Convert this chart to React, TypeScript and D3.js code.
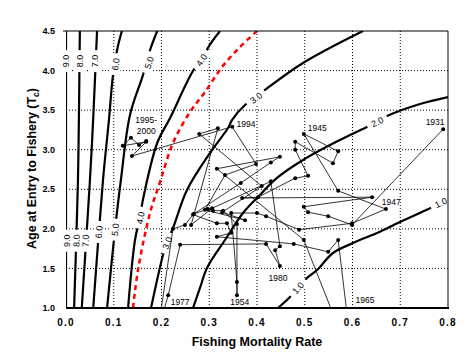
import React from "react";
import * as d3 from "d3";

// ---------- data ----------
const years = [
  1931, 1932, 1933, 1934, 1935, 1936, 1937, 1938, 1939, 1940,
  1941, 1942, 1943, 1944, 1945, 1946, 1947, 1948, 1949, 1950,
  1951, 1952, 1953, 1954, 1955, 1956, 1957, 1958, 1959, 1960,
  1961, 1962, 1963, 1964, 1965, 1966, 1967, 1968, 1969, 1970,
  1971, 1972, 1973, 1974, 1975, 1976, 1977, 1978, 1979, 1980,
  1981, 1982, 1983, 1984, 1985, 1986, 1987, 1988, 1989, 1990,
  1991, 1992, 1993, 1994, 1995, 1996, 1997, 1998, 1999, 2000,
];
const mortality = [
  0.79, 0.599, 0.549, 0.507, 0.498, 0.641, 0.369, 0.402, 0.48, 0.507,
  0.48, 0.48, 0.559, 0.57, 0.498, 0.57, 0.67, 0.599, 0.488, 0.419,
  0.4, 0.346, 0.358, 0.358, 0.358, 0.329, 0.308, 0.297, 0.268, 0.366,
  0.429, 0.448, 0.316, 0.498, 0.601, 0.57, 0.549, 0.477, 0.316, 0.346,
  0.337, 0.316, 0.266, 0.249, 0.224, 0.193, 0.214, 0.239, 0.419, 0.448,
  0.438, 0.448, 0.429, 0.306, 0.262, 0.318, 0.279, 0.41, 0.327, 0.375,
  0.291, 0.333, 0.398, 0.348, 0.138, 0.168, 0.119, 0.136, 0.153, 0.168,
];
const ageAtEntry = [
  3.26, 2.05, 2.16, 2.21, 2.28, 2.4, 2.39, 2.4, 2.64, 2.67,
  3.0, 3.1, 2.83, 2.98, 3.2, 2.48, 2.25, 2.07, 1.99, 2.16,
  2.2, 2.2, 1.33, 1.16, 2.06, 2.23, 2.23, 2.25, 2.19, 2.58,
  2.84, 2.91, 2.76, 1.86, 0.29, 1.86, 1.71, 1.81, 1.9, 1.95,
  2.07, 2.07, 2.18, 2.05, 2.0, 0.72, 1.16, 1.8, 1.81, 1.53,
  1.73, 1.78, 2.6, 2.26, 2.05, 3.27, 3.2, 2.54, 2.21, 2.11,
  2.24, 2.68, 2.82, 3.29, 2.92, 3.1, 3.05, 3.15, 3.06, 3.11,
];

const yearLabels = ["1931", "1945", "1947", "1994", "1995-", "2000", "1954", "1965", "1977", "1980"];
const yearLabelF = [0.773, 0.526, 0.681, 0.377, 0.168, 0.168, 0.364, 0.626, 0.239, 0.444];
const yearLabelT = [3.35, 3.27, 2.34, 3.33, 3.38, 3.24, 1.08, 1.1, 1.08, 1.38];

const xTicks = [0, 0.1, 0.2, 0.3, 0.4, 0.5, 0.6, 0.7, 0.8];
const xTickLabels = ["0.0", "0.1", "0.2", "0.3", "0.4", "0.5", "0.6", "0.7", "0.8"];
const yTicks = [1.0, 1.5, 2.0, 2.5, 3.0, 3.5, 4.0, 4.5];
const yTickLabels = ["1.0", "1.5", "2.0", "2.5", "3.0", "3.5", "4.0", "4.5"];

// contour lines [F, T]
const contour90 = [[0.0, 4.5], [0.0, 1.0]];
const contour80 = [[0.029, 4.5], [0.027, 3.4], [0.025, 2.6], [0.017, 1.0]];
const contour70 = [[0.065, 4.5], [0.057, 3.4], [0.05, 2.6], [0.033, 1.0]];
const contour60 = [[0.117, 4.5], [0.107, 4.26], [0.098, 3.92], [0.09, 3.38], [0.0775, 2.62], [0.057, 1.0]];
const contour50 = [[0.191, 4.5], [0.176, 4.26], [0.161, 3.94], [0.134, 3.44], [0.115, 2.62], [0.103, 2.01], [0.086, 1.0]];
const contour40 = [[0.3225, 4.5], [0.297, 4.285], [0.287, 4.134], [0.27, 4.033], [0.218, 3.401], [0.191, 3.085], [0.161, 2.365], [0.155, 2.15], [0.1445, 1.859], [0.13, 1.0]];
const contour30 = [[0.622, 4.5], [0.4963, 4.096], [0.4168, 3.755], [0.3958, 3.653], [0.3749, 3.565], [0.3476, 3.375], [0.3393, 3.274], [0.3016, 2.959], [0.2534, 2.491], [0.2241, 2.011], [0.2115, 1.834], [0.2031, 1.67], [0.178, 1.0]];
const contour20 = [[0.8, 3.666], [0.7414, 3.578], [0.6723, 3.426], [0.6513, 3.35], [0.6304, 3.287], [0.5738, 3.123], [0.4963, 2.87], [0.4419, 2.643], [0.4021, 2.403], [0.3707, 2.2], [0.333, 1.859], [0.2953, 1.505], [0.2806, 1.253], [0.266, 1.0]];
const contour10 = [[0.8, 2.365], [0.7686, 2.276], [0.6995, 2.087], [0.6513, 1.948], [0.601, 1.821], [0.5592, 1.695], [0.5257, 1.48], [0.5047, 1.379], [0.486, 1.253], [0.4691, 1.139], [0.444, 1.0]];
const referenceLine = [[0.4, 4.5], [0.3644, 4.298], [0.3267, 4.045], [0.2911, 3.729], [0.2597, 3.477], [0.2241, 3.085], [0.1969, 2.592], [0.1759, 2.2], [0.1508, 1.48], [0.1403, 1.0]];
const contours = [contour90, contour80, contour70, contour60, contour50, contour40, contour30, contour20, contour10];

// contour labels: text, F, T, angle
const contourLabelText = ["9.0", "8.0", "7.0", "6.0", "5.0", "4.0", "3.0", "2.0", "1.0",
  "9.0", "8.0", "7.0", "6.0", "5.0", "4.0", "3.0", "1.0"];
const contourLabelF = [0.0, 0.028, 0.061, 0.104, 0.174, 0.284, 0.398, 0.652, 0.785,
  0.002, 0.022, 0.041, 0.069, 0.103, 0.156, 0.212, 0.486];
const contourLabelT = [4.12, 4.12, 4.12, 4.08, 4.1, 4.134, 3.653, 3.35, 2.33,
  1.85, 1.85, 1.85, 1.96, 1.99, 2.14, 1.82, 1.253];
const contourLabelAngle = [-90, -90, -90, -83, -72, -57, -37, -25, -24,
  -90, -88, -87, -85, -84, -79, -70, -48];

export default function App() {
  const W = 475, H = 356;
  const x = d3.scaleLinear().domain([0, 0.8]).range([66, 448]);
  const y = d3.scaleLinear().domain([1, 4.5]).range([308, 31]);
  const curve = d3.line<number[]>().x((d) => x(d[0])).y((d) => y(d[1])).curve(d3.curveCatmullRom.alpha(0.5));
  const traj = d3.line<number>().x((i) => x(mortality[i])).y((i) => y(ageAtEntry[i]));
  const idx = years.map((_, i) => i);
  const font = "'Liberation Sans', Arial, Helvetica, sans-serif";
  const [x0, x1] = x.range();
  const [y0, y1] = y.range();

  return (
    <svg width={W} height={H} style={{ position: "absolute", left: 0, top: 0, background: "#fff" }} fontFamily={font}>
      <defs>
        <clipPath id="plot">
          <rect x={x0} y={y1} width={x1 - x0} height={y0 - y1} />
        </clipPath>
      </defs>
      <rect width={W} height={H} fill="#fff" />
      {/* grid */}
      {xTicks.slice(1, -1).map((t) => (
        <line key={"gx" + t} x1={x(t)} x2={x(t)} y1={y1} y2={y0} stroke="#000" strokeWidth={1} strokeDasharray="1,2" />
      ))}
      {yTicks.slice(1, -1).map((t) => (
        <line key={"gy" + t} x1={x0} x2={x1} y1={y(t)} y2={y(t)} stroke="#000" strokeWidth={1} strokeDasharray="1,2" />
      ))}
      {/* contours */}
      <g clipPath="url(#plot)">
        {contours.map((c, i) => (
          <path key={"c" + i} d={curve(c) || ""} fill="none" stroke="#000" strokeWidth={2.2} />
        ))}
      </g>
      {/* contour labels with white gaps */}
      {contourLabelText.map((t, i) => (
        <g key={"cl" + i} transform={`translate(${x(contourLabelF[i])},${y(contourLabelT[i])}) rotate(${contourLabelAngle[i]})`}>
          <rect x={-11} y={-5.5} width={22} height={11} fill="#fff" />
          <text x={0} y={0} dy="0.35em" textAnchor="middle" fontSize={9} fill="#000">{t}</text>
        </g>
      ))}
      {/* reference dashed red */}
      <g clipPath="url(#plot)">
        <path d={curve(referenceLine) || ""} fill="none" stroke="#ff0000" strokeWidth={2.5} strokeDasharray="5,4" />
      </g>
      {/* frame */}
      <line x1={x0 - 3} x2={x1} y1={y1} y2={y1} stroke="#000" strokeWidth={1} />
      <line x1={x1} x2={x1} y1={y1} y2={y0} stroke="#000" strokeWidth={1} />
      <line x1={x0} x2={x1 + 1} y1={y0} y2={y0} stroke="#000" strokeWidth={2.2} />
      {/* trajectory */}
      <g clipPath="url(#plot)">
        <path d={traj(idx) || ""} fill="none" stroke="#000" strokeWidth={0.8} />
        {idx.map((i) => (
          <circle key={"p" + i} cx={x(mortality[i])} cy={y(ageAtEntry[i])} r={2} fill="#000" />
        ))}
      </g>
      {yearLabels.map((t, i) => (
        <text key={"yl" + i} x={x(yearLabelF[i])} y={y(yearLabelT[i])} dy="0.35em" textAnchor="middle" fontSize={8.5} fill="#000">{t}</text>
      ))}
      {/* axes tick labels */}
      {xTicks.map((t, i) => (
        <text key={"xt" + i} x={x(t)} y={326} textAnchor="middle" fontSize={10} fontWeight="bold" letterSpacing={1.2} fill="#000">{xTickLabels[i]}</text>
      ))}
      {yTicks.map((t, i) => (
        <text key={"yt" + i} x={55} y={y(t)} dy="0.35em" textAnchor="end" fontSize={9} fontWeight="bold" fill="#000">{yTickLabels[i]}</text>
      ))}
      {/* axis titles */}
      <text x={(x0 + x1) / 2} y={346} textAnchor="middle" fontSize={12.5} fontWeight="bold" fill="#000">Fishing Mortality Rate</text>
      <text transform={`translate(36,${(y0 + y1) / 2 - 1}) rotate(-90)`} textAnchor="middle" fontSize={12.5} fontWeight="bold" fill="#000">
        Age at Entry to Fishery (T<tspan fontSize={8.5} dy={3}>c</tspan><tspan dy={-3}>)</tspan>
      </text>
    </svg>
  );
}
